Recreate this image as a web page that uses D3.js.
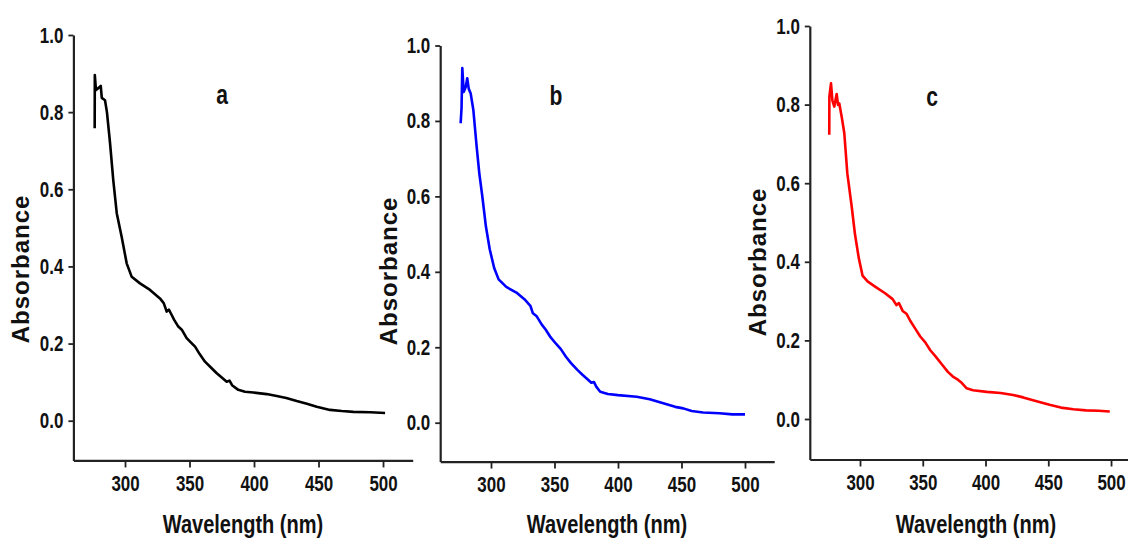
<!DOCTYPE html>
<html>
<head>
<meta charset="utf-8">
<script src="https://cdn.jsdelivr.net/npm/d3@7"></script>
<style>
  body { margin: 0; background: #fff; }
  .tick text { font-family: "Liberation Sans", Arial, sans-serif; font-weight: bold; font-size: 22px; fill: #111; }
  .ttl { font-family: "Liberation Sans", Arial, sans-serif; font-weight: bold; font-size: 26px; fill: #111; }
  .ylab { font-family: "Liberation Sans", Arial, sans-serif; font-weight: bold; font-size: 24px; letter-spacing: 1px; fill: #111; }
  .tag { font-family: "Liberation Sans", Arial, sans-serif; font-weight: bold; font-size: 27px; fill: #111; }
</style>
</head>
<body>
<div id="chart"></div>
<script>
var width = 1128,
    height = 542;

// x ticks / y ticks
var xTicks = [300, 350, 400, 450, 500],
    yTicks = [0, 0.2, 0.4, 0.6, 0.8, 1.0];

// spectrum a (black)
var waveA = [276.5, 276.6, 277.5, 278.5, 281.2, 282.0, 284.5, 286.0, 288.4, 290.9, 293.6, 297.4, 301.3, 305.2, 311.6, 319.4, 327.1, 330.0, 332.3, 334.0, 336.2, 338.0, 341.3, 344.0, 347.8, 351.0, 354.3, 358.0, 362.0, 366.0, 371.1, 375.0, 378.8, 381.0, 383.0, 387.8, 393.0, 399.5, 409.8, 417.6, 425.0, 433.1, 441.0, 448.6, 458.9, 468.0, 477.0, 490.0, 501.6];
var absA  = [0.758, 0.896, 0.857, 0.860, 0.868, 0.837, 0.831, 0.800, 0.720, 0.624, 0.538, 0.477, 0.408, 0.373, 0.356, 0.339, 0.317, 0.305, 0.283, 0.288, 0.274, 0.262, 0.244, 0.236, 0.214, 0.203, 0.192, 0.172, 0.153, 0.140, 0.123, 0.112, 0.101, 0.104, 0.092, 0.080, 0.075, 0.073, 0.069, 0.064, 0.059, 0.051, 0.044, 0.036, 0.028, 0.025, 0.023, 0.022, 0.020];

// spectrum b (blue)
var waveB = [276.1, 276.8, 277.4, 278.5, 280.1, 281.3, 282.5, 284.0, 286.1, 288.7, 290.8, 293.2, 296.0, 299.0, 302.5, 306.0, 312.0, 320.0, 327.0, 331.0, 333.0, 336.0, 340.0, 343.0, 347.0, 351.0, 355.0, 359.0, 363.0, 368.0, 372.0, 376.0, 379.0, 381.0, 383.0, 386.0, 392.0, 400.0, 414.7, 425.0, 435.0, 445.0, 451.4, 458.0, 467.0, 480.0, 490.0, 500.0];
var absB  = [0.794, 0.834, 0.940, 0.877, 0.890, 0.913, 0.885, 0.873, 0.829, 0.732, 0.661, 0.599, 0.520, 0.460, 0.410, 0.380, 0.360, 0.345, 0.325, 0.310, 0.290, 0.282, 0.260, 0.247, 0.226, 0.210, 0.195, 0.175, 0.158, 0.140, 0.127, 0.115, 0.106, 0.108, 0.095, 0.082, 0.076, 0.073, 0.069, 0.062, 0.052, 0.042, 0.038, 0.031, 0.027, 0.025, 0.022, 0.022];

// spectrum c (red)
var waveC = [275.5, 275.6, 276.9, 278.0, 279.5, 281.4, 282.5, 283.5, 285.4, 287.5, 289.9, 293.4, 296.0, 299.0, 302.0, 306.0, 312.0, 320.0, 326.0, 329.0, 331.0, 334.0, 337.0, 340.0, 344.0, 348.0, 352.0, 356.0, 360.0, 365.0, 370.0, 374.0, 378.0, 381.0, 385.0, 390.0, 401.0, 412.0, 422.0, 430.0, 440.0, 451.0, 460.0, 470.0, 480.0, 490.0, 499.0];
var absC  = [0.723, 0.820, 0.854, 0.810, 0.795, 0.827, 0.799, 0.803, 0.769, 0.727, 0.625, 0.540, 0.470, 0.410, 0.365, 0.350, 0.337, 0.320, 0.305, 0.290, 0.295, 0.275, 0.268, 0.250, 0.230, 0.210, 0.195, 0.175, 0.160, 0.140, 0.120, 0.108, 0.100, 0.092, 0.078, 0.073, 0.069, 0.066, 0.061, 0.055, 0.046, 0.036, 0.029, 0.025, 0.022, 0.021, 0.019];

var tags = ['a', 'b', 'c'],
    colors = ['#000000', '#0000ff', '#ff0000'];

// panel placement
var panels = [
  {left: 73.4,  right: 412.7,  top: 35,   zero: 420.7, tagX: 222, tagY: 104, ylabX: 21,  ylabY: 269, xlabX: 243, waves: waveA, abs: absA},
  {left: 440.2, right: 774.2,  top: 45.5, zero: 422.7, tagX: 556, tagY: 105, ylabX: 389, ylabY: 271, xlabX: 607, waves: waveB, abs: absB},
  {left: 809.8, right: 1139.9, top: 26,   zero: 419,   tagX: 932, tagY: 106, ylabX: 758, ylabY: 262, xlabX: 976, waves: waveC, abs: absC}
];

var sx = 0.77; // narrow the glyphs like the original condensed font

var svg = d3.select('#chart').append('svg')
    .attr('width', width)
    .attr('height', height);

panels.forEach(function (p, i) {
  var bottom = p.zero + 0.103 * (p.zero - p.top);
  var x = d3.scaleLinear().domain([260, 523]).range([p.left, p.right]);
  var y = d3.scaleLinear().domain([-0.103, 1.0]).range([bottom, p.top]);

  var g = svg.append('g');

  // axes
  var xa = g.append('g')
      .attr('transform', 'translate(0,' + bottom + ')')
      .call(d3.axisBottom(x).tickValues(xTicks).tickSize(7).tickSizeOuter(0).tickPadding(8));
  var ya = g.append('g')
      .attr('transform', 'translate(' + p.left + ',0)')
      .call(d3.axisLeft(y).tickValues(yTicks).tickSize(5).tickSizeOuter(0).tickPadding(5)
            .tickFormat(d3.format('.1f')));
  [xa, ya].forEach(function (a) {
    a.select('.domain').attr('stroke', '#222').attr('stroke-width', 2.2);
    a.selectAll('.tick line').attr('stroke', '#222').attr('stroke-width', 1.8);
    a.selectAll('.tick text').attr('transform', 'scale(' + sx + ',1)');
  });
  ya.selectAll('.tick text').attr('x', -10 / sx);

  // curve
  var pts = p.waves.map(function (w, j) { return [w, p.abs[j]]; });
  g.append('path')
      .datum(pts)
      .attr('fill', 'none')
      .attr('stroke', colors[i])
      .attr('stroke-width', 2.6)
      .attr('stroke-linejoin', 'round')
      .attr('d', d3.line().x(function (d) { return x(d[0]); }).y(function (d) { return y(d[1]); }));

  // labels
  g.append('text').attr('class', 'tag')
      .attr('transform', 'translate(' + p.tagX + ',' + p.tagY + ') scale(0.78,1)')
      .attr('text-anchor', 'middle').text(tags[i]);
  g.append('text').attr('class', 'ttl')
      .attr('transform', 'translate(' + p.xlabX + ',533) scale(0.77,1)')
      .attr('text-anchor', 'middle').text('Wavelength (nm)');
  g.append('text').attr('class', 'ylab')
      .attr('transform', 'translate(' + p.ylabX + ',' + p.ylabY + ') rotate(-90)')
      .attr('text-anchor', 'middle').attr('dy', '0.35em').text('Absorbance');
});
</script>
</body>
</html>
